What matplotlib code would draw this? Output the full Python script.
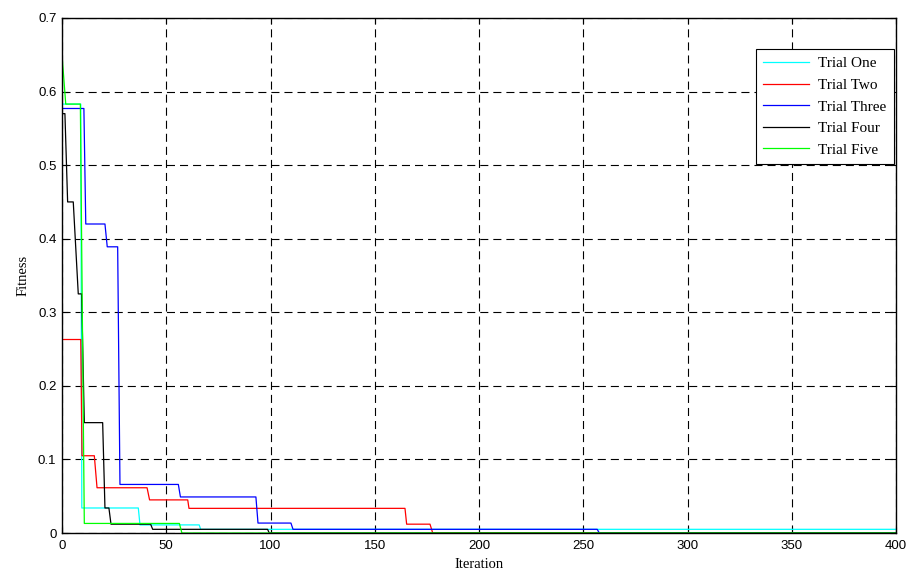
import matplotlib
matplotlib.use("Agg")
import matplotlib.pyplot as plt

# Vertices (iteration, fitness) of each trial's convergence curve
trial_one_iter = [0, 9, 9.5, 36.6, 37.4, 65.8, 66.5, 400]
trial_one_fit = [0.583, 0.583, 0.034, 0.034, 0.011, 0.011, 0.005, 0.005]

trial_two_iter = [0, 9, 9.6, 15.5, 16.8, 40.8, 42, 60.3, 60.9, 164.5, 165.3, 176.5, 177.8, 400]
trial_two_fit = [0.263, 0.263, 0.105, 0.105, 0.0615, 0.0615, 0.045, 0.045, 0.0335, 0.0335, 0.012, 0.012, 0.0, 0.0]

trial_three_iter = [0, 10.5, 11.4, 20.6, 21.7, 26.7, 27.8, 55.8, 56.8, 93, 94, 109.8, 110.8, 256.7, 257.7, 400]
trial_three_fit = [0.577, 0.577, 0.42, 0.42, 0.389, 0.389, 0.066, 0.066, 0.049, 0.049, 0.0135, 0.0135, 0.005, 0.005, 0.0, 0.0]

trial_four_iter = [0, 1.4, 2.7, 5.4, 7.8, 9.4, 10.7, 19.5, 20.6, 22.5, 23.5, 42.5, 43.5, 98.6, 99.4, 400]
trial_four_fit = [0.570, 0.570, 0.45, 0.45, 0.325, 0.325, 0.15, 0.15, 0.034, 0.034, 0.012, 0.012, 0.005, 0.005, 0.0, 0.0]

trial_five_iter = [0, 1.8, 8.8, 10.7, 56.3, 57.5, 400]
trial_five_fit = [0.65, 0.583, 0.583, 0.013, 0.013, 0.0, 0.0]

labels = ["Trial One", "Trial Two", "Trial Three", "Trial Four", "Trial Five"]
colors = ["#00ffff", "#ff0000", "#0000ff", "#000000", "#00ff00"]

x_ticks = [0, 50, 100, 150, 200, 250, 300, 350, 400]
x_tick_labels = ["0", "50", "100", "150", "200", "250", "300", "350", "400"]
y_ticks = [0, 0.1, 0.2, 0.3, 0.4, 0.5, 0.6, 0.7]
y_tick_labels = ["0", "0.1", "0.2", "0.3", "0.4", "0.5", "0.6", "0.7"]

plt.rcParams["lines.scale_dashes"] = False

fig = plt.figure(figsize=(9.09, 5.74), dpi=100)
ax = fig.add_axes([62 / 909, 41 / 574, 834 / 909, 515 / 574])

series = [
    (trial_one_iter, trial_one_fit),
    (trial_two_iter, trial_two_fit),
    (trial_three_iter, trial_three_fit),
    (trial_four_iter, trial_four_fit),
    (trial_five_iter, trial_five_fit),
]
for (xs, ys), lab, col in zip(series, labels, colors):
    ax.plot(xs, ys, color=col, lw=0.9, label=lab)

ax.set_xlim(0, 400)
ax.set_ylim(0, 0.7)
ax.set_xticks(x_ticks)
ax.set_xticklabels(x_tick_labels, family="Liberation Sans", fontsize=9.5)
ax.set_yticks(y_ticks)
ax.set_yticklabels(y_tick_labels, family="Liberation Sans", fontsize=9.5)
ax.tick_params(direction="in", top=True, right=True, length=4, width=0.8, pad=4)
ax.tick_params(axis="x", pad=5)
ax.grid(True, color="black", linestyle=(0, (5.8, 3.6)), lw=0.8)
ax.set_axisbelow(True)
for sp in ax.spines.values():
    sp.set_linewidth(1.0)

ax.set_xlabel("Iteration", family="Liberation Serif", fontsize=10.5, labelpad=4)
ax.set_ylabel("Fitness", family="Liberation Serif", fontsize=10.5, labelpad=6)

leg = ax.legend(loc="upper right", bbox_to_anchor=(0.998, 0.94), borderaxespad=0,
                prop={"family": "Liberation Serif", "size": 11}, handlelength=3.0,
                labelspacing=0.52, fancybox=False, framealpha=1, edgecolor="black",
                borderpad=0.5, handletextpad=0.6)
leg.get_frame().set_linewidth(0.8)

fig.savefig("out.png", dpi=100)
